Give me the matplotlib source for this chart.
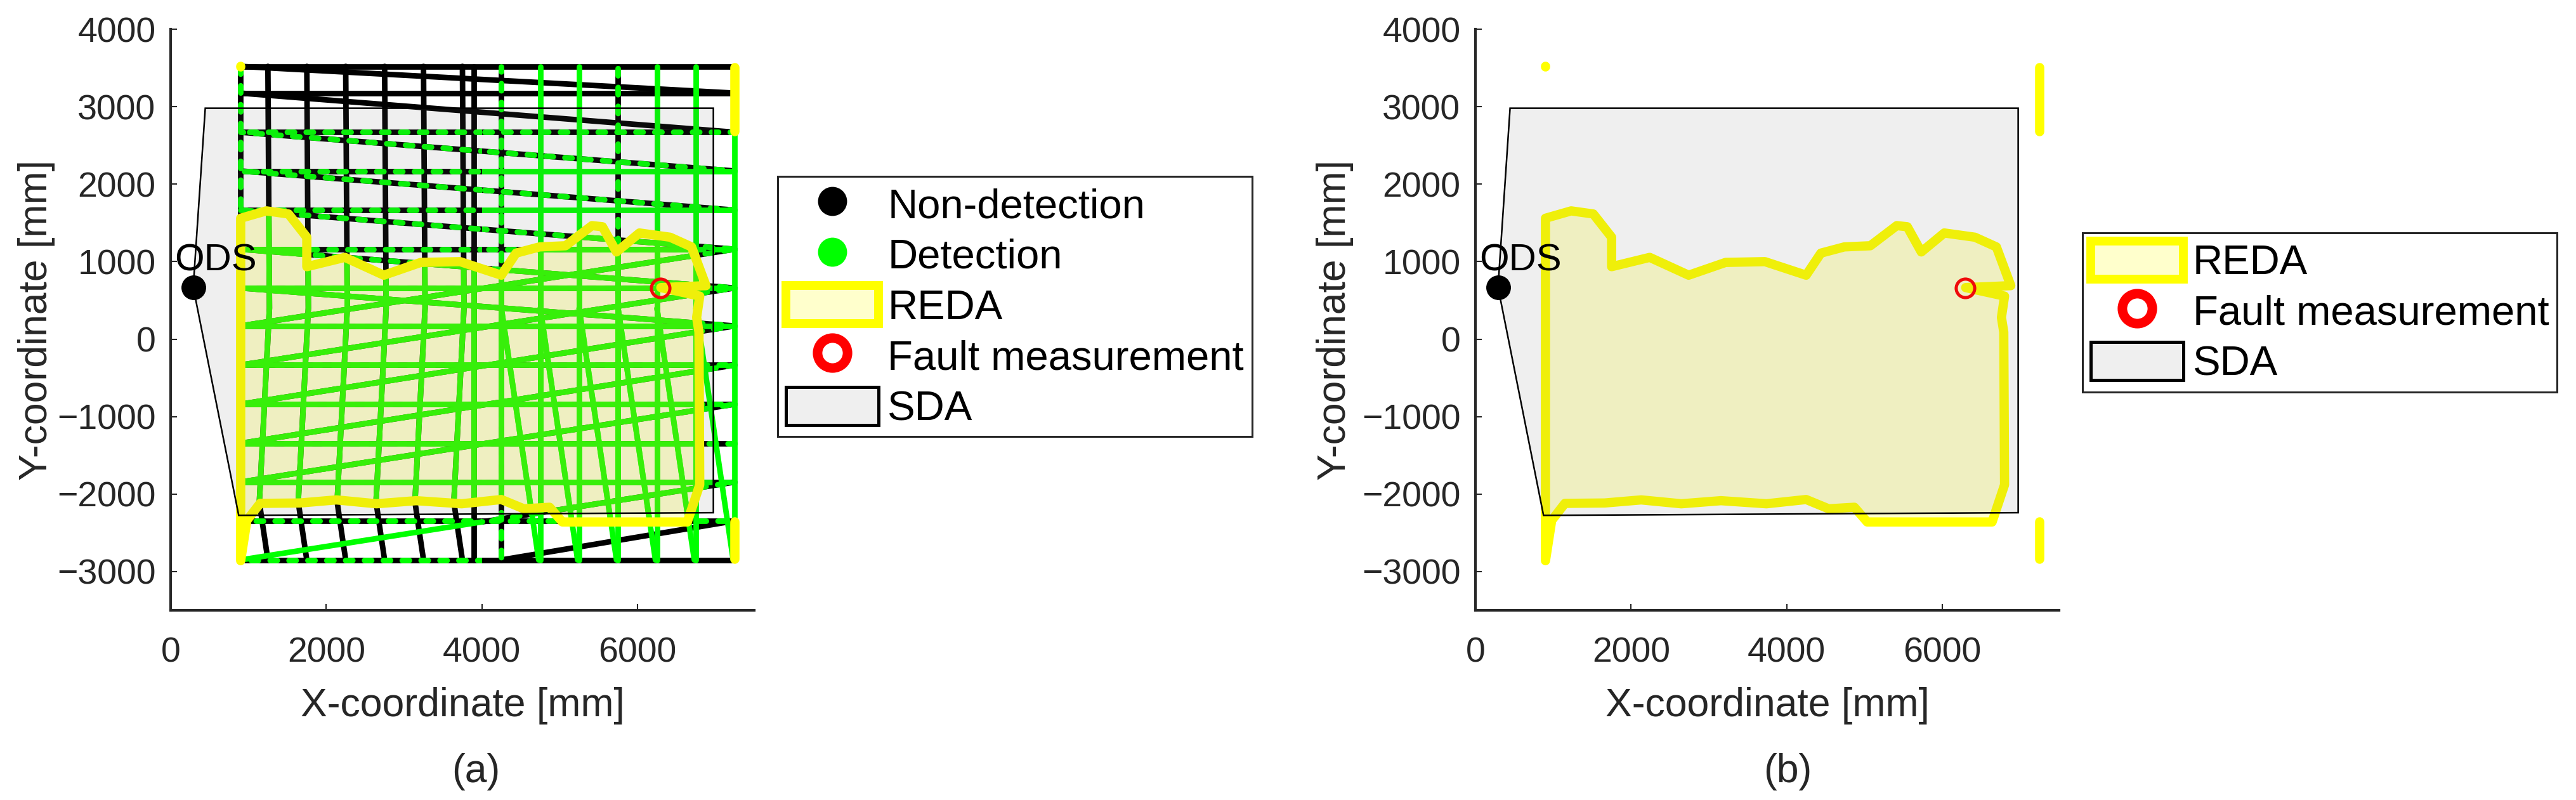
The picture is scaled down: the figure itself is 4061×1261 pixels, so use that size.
import matplotlib
matplotlib.use("Agg")
import matplotlib.pyplot as plt
from matplotlib.patches import Polygon, Rectangle, Patch
from matplotlib.lines import Line2D

plt.rcParams['font.family'] = ['Liberation Sans', 'DejaVu Sans']

# ------------------------------------------------------------------ data (mm)
ODS_XY = [290, 670]
FAULT_XY = [6290, 660]

SDA_X = [290, 445, 6975, 6975, 875]
SDA_Y = [670, 2980, 2980, -2240, -2275]

REDA_X = [900, 1230, 1515, 1750, 1750, 2240, 2740, 3215, 3720, 4250, 4440, 4740,
          5075, 5415, 5550, 5730, 6025, 6420, 6695, 6880, 6300, 6800, 6760, 6790,
          6800, 6640, 5035, 4870, 4540, 4250, 3740, 3155, 2645, 2130, 1660, 1150,
          980, 900]
REDA_Y = [1560, 1655, 1615, 1315, 935, 1055, 825, 990, 1000, 825, 1110, 1190,
          1205, 1465, 1450, 1125, 1370, 1315, 1190, 690, 665, 555, 280, 90,
          -1880, -2360, -2360, -2170, -2190, -2070, -2125, -2085, -2125, -2075, -2115, -2120,
          -2340, -2860]
# detached REDA pieces
REDA_STUB_X = [[900, 900], [7250, 7250], [7250, 7250]]
REDA_STUB_Y = [[3522, 3515], [3505, 2680], [-2350, -2840]]

# "vertical" scan lines: x at the break heights VERT_BREAK_Y
VERT_BREAK_Y = [3520, 400, -2100, -2345, -2850]
VERT_X = [
    [900, 900, 900, 900, 900],
    [1250, 1270, 1140, 1175, 1250],
    [1750, 1770, 1640, 1675, 1750],
    [2250, 2270, 2140, 2175, 2250],
    [2750, 2770, 2640, 2675, 2750],
    [3250, 3270, 3140, 3175, 3250],
    [3750, 3770, 3640, 3675, 3750],
    [3900, 3900, 3900, 3900, 3900],
    [4250, 4250, 4250, 4250, 4250],
    [4750, 4750, 4750, 4750, 4750],
    [5250, 5250, 5250, 5250, 5250],
    [5750, 5750, 5750, 5750, 5750],
    [6250, 6250, 6250, 6250, 6250],
    [6750, 6750, 6750, 6750, 6750],
    [7250, 7250, 7250, 7250, 7250],
]
# N = non-detection, D = detection, M = mixed (outside the REDA)
VERT_UPPER = ['M', 'N', 'N', 'N', 'N', 'N', 'N', 'N', 'M', 'D', 'D', 'M', 'D', 'D', 'D']
VERT_LOWER = ['M', 'N', 'N', 'N', 'N', 'N', 'N', 'N', 'M', 'D', 'D', 'D', 'D', 'D', 'D']

# leaning lines in the lower right part
LEAN_X0 = [4250, 4750, 5250, 5750, 6250, 6750]
LEAN_Y0 = [400, 400, 400, 400, 400, 400]
LEAN_X1 = [4730, 5230, 5730, 6230, 6730, 7230]
LEAN_Y1 = [-2850, -2850, -2850, -2850, -2850, -2850]

# "horizontal" scan lines (flat, descending and ascending)
HOR_X0 = [900] * 14 + [900] * 7 + [900] * 6 + [4250]
HOR_Y0 = [3520, 3175, 2670, 2170, 1665, 1160, 660, 170, -335, -840, -1345, -1845, -2345, -2850,
          3520, 3175, 2670, 2170, 1665, 1160, 660,
          170, -335, -840, -1345, -1845, -2850,
          -2850]
HOR_X1 = [7250] * 28
HOR_Y1 = [3520, 3175, 2670, 2170, 1665, 1160, 660, 170, -335, -840, -1345, -1845, -2345, -2850,
          3175, 2670, 2170, 1665, 1160, 660, 170,
          1160, 660, 170, -335, -840, -1845,
          -2345]
HOR_LEFT = ['N', 'N', 'M', 'M', 'M', 'M', 'M', 'M', 'M', 'M', 'M', 'M', 'M', 'M',
            'N', 'N', 'M', 'M', 'M', 'M', 'M',
            'M', 'M', 'M', 'M', 'M', 'D',
            'N']
HOR_RIGHT = ['N', 'N', 'M', 'D', 'D', 'M', 'M', 'M', 'M', 'M', 'M', 'M', 'M', 'N',
             'N', 'N', 'M', 'M', 'M', 'M', 'M',
             'M', 'M', 'M', 'M', 'M', 'M',
             'N']

X_TICKS = [0, 2000, 4000, 6000]
Y_TICKS = [-3000, -2000, -1000, 0, 1000, 2000, 3000, 4000]

# ------------------------------------------------------------------ style
W, H, DPI = 4061, 1261, 100
GREEN = '#00ff00'
BLACK = '#000000'
YELLOW = '#ffff00'
AXC = '#262626'
LW = 6.3
REDA_LW = 10.5
DASH = (1.3, 2.1)

fig = plt.figure(figsize=(W / DPI, H / DPI), dpi=DPI)


def px_axes(left_px):
    return fig.add_axes([left_px / W, (H - 962) / H, 920 / W, 916 / H])


def style_axes(ax, ylabel_x):
    ax.set_xlim(0, 7500)
    ax.set_ylim(-3500, 4000)
    ax.set_xticks(X_TICKS)
    ax.set_yticks(Y_TICKS)
    for s in ('top', 'right'):
        ax.spines[s].set_visible(False)
    for s in ('left', 'bottom'):
        ax.spines[s].set_linewidth(3.0)
        ax.spines[s].set_color(AXC)
    ax.tick_params(direction='in', length=7, width=1.5, colors=AXC, labelsize=40)
    ax.tick_params(axis='x', pad=30)
    ax.tick_params(axis='y', pad=17)
    ax.set_xlabel('X-coordinate [mm]', fontsize=45, color=AXC)
    ax.set_ylabel('Y-coordinate [mm]', fontsize=45, color=AXC)
    ax.xaxis.set_label_coords(0.5, -0.132)
    ax.yaxis.set_label_coords(ylabel_x, 0.5)


def add_areas(ax):
    reda = Polygon(list(zip(REDA_X, REDA_Y)), closed=True,
                   facecolor=(1, 1, 0, 0.2), edgecolor=YELLOW, lw=REDA_LW,
                   joinstyle='round', zorder=3)
    ax.add_patch(reda)
    for xs, ys in zip(REDA_STUB_X, REDA_STUB_Y):
        ax.plot(xs, ys, color=YELLOW, lw=REDA_LW, solid_capstyle='round', zorder=3)
    ax.plot([FAULT_XY[0]], [FAULT_XY[1]], 'o', mfc='none', mec='#ff0000',
            ms=21, mew=3.6, zorder=4)
    sda = Polygon(list(zip(SDA_X, SDA_Y)), closed=True,
                  facecolor=(0.4, 0.4, 0.4, 0.1), edgecolor='k', lw=1.8, zorder=5)
    ax.add_patch(sda)
    ax.plot([ODS_XY[0]], [ODS_XY[1]], 'o', color='k', ms=27, zorder=6)
    ax.text(50, 885, 'ODS', fontsize=43, color='k', ha='left', va='baseline', zorder=6)
    return reda


def draw_line(ax, xs, ys, status, clip, k):
    if status in ('N', 'M'):
        l, = ax.plot(xs, ys, color=BLACK, lw=LW, solid_capstyle='round',
                     solid_joinstyle='round', zorder=2.0)
        l.set_clip_path(clip)
    if status == 'M':
        l, = ax.plot(xs, ys, color=GREEN, lw=LW, linestyle=((k * 0.9) % 3.4, DASH),
                     dash_capstyle='round', zorder=2.1)
        l.set_clip_path(clip)
    if status == 'D':
        l, = ax.plot(xs, ys, color=GREEN, lw=LW, solid_capstyle='round',
                     solid_joinstyle='round', zorder=2.1)
        l.set_clip_path(clip)


# ------------------------------------------------------------------ panel (a)
ax1 = px_axes(269)
style_axes(ax1, -0.198)
reda1 = add_areas(ax1)

left_clip = Rectangle((-2000, -6000), 6000, 12000, transform=ax1.transData)
right_clip = Rectangle((4000, -6000), 6000, 12000, transform=ax1.transData)
upper_clip = Rectangle((-2000, 400), 12000, 6000, transform=ax1.transData)
lower_clip = Rectangle((-2000, -6000), 12000, 6400, transform=ax1.transData)

all_lines = []
for i, xs in enumerate(VERT_X):
    draw_line(ax1, xs, VERT_BREAK_Y, VERT_UPPER[i], upper_clip, i)
    draw_line(ax1, xs, VERT_BREAK_Y, VERT_LOWER[i], lower_clip, i + 1)
    all_lines.append((xs, VERT_BREAK_Y))
for i in range(len(LEAN_X0)):
    xs, ys = [LEAN_X0[i], LEAN_X1[i]], [LEAN_Y0[i], LEAN_Y1[i]]
    draw_line(ax1, xs, ys, 'D', lower_clip, i)
    all_lines.append((xs, ys))
for i in range(len(HOR_X0)):
    xs, ys = [HOR_X0[i], HOR_X1[i]], [HOR_Y0[i], HOR_Y1[i]]
    draw_line(ax1, xs, ys, HOR_LEFT[i], left_clip, i)
    draw_line(ax1, xs, ys, HOR_RIGHT[i], right_clip, i + 2)
    all_lines.append((xs, ys))
# everything inside the REDA is a detection
for xs, ys in all_lines:
    l, = ax1.plot(xs, ys, color=GREEN, lw=LW, solid_capstyle='round', zorder=2.2)
    l.set_clip_path(reda1)

# ------------------------------------------------------------------ panel (b)
ax2 = px_axes(2326)
style_axes(ax2, -0.209)
add_areas(ax2)

# ------------------------------------------------------------------ legends
h_non = Line2D([], [], ls='none', marker='o', color='k', ms=32)
h_det = Line2D([], [], ls='none', marker='o', color=GREEN, ms=32)
h_reda = Patch(facecolor=(1, 1, 0, 0.2), edgecolor=YELLOW, lw=10, joinstyle='round')
h_fault = Line2D([], [], ls='none', marker='o', mfc='none', mec='#ff0000', ms=34, mew=10.8)
h_sda = Patch(facecolor=(0.4, 0.4, 0.4, 0.1), edgecolor='k', lw=3.6)

leg_kw = dict(loc='upper left', fontsize=47, frameon=True, fancybox=False,
              borderpad=0.2, labelspacing=0.22, handlelength=2.24, handleheight=1.04,
              handletextpad=0.22, borderaxespad=0.0, edgecolor=AXC, framealpha=1)
leg1 = fig.legend([h_non, h_det, h_reda, h_fault, h_sda],
                  ['Non-detection', 'Detection', 'REDA', 'Fault measurement', 'SDA'],
                  bbox_to_anchor=(1225.5 / W, 1 - 277.8 / H), **leg_kw)
leg1.get_frame().set_linewidth(2.2)
leg2 = fig.legend([h_reda, h_fault, h_sda],
                  ['REDA', 'Fault measurement', 'SDA'],
                  bbox_to_anchor=(3283 / W, 1 - 366.7 / H), **leg_kw)
leg2.get_frame().set_linewidth(2.2)

fig.text(750 / W, 1 - 1216 / H, '(a)', fontsize=45, color=AXC, ha='center', va='center')
fig.text(2818 / W, 1 - 1216 / H, '(b)', fontsize=45, color=AXC, ha='center', va='center')

fig.savefig('out.png', dpi=DPI, facecolor='white')
